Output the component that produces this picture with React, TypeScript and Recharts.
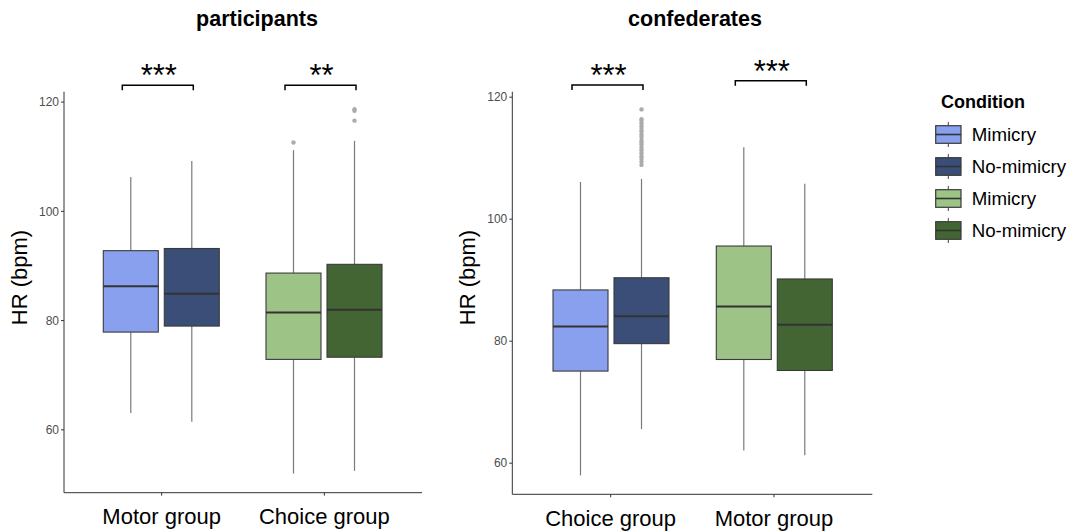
import React from 'react';
import { ComposedChart, Bar, XAxis, YAxis, Cell } from 'recharts';

const FONT = '"Liberation Sans", Arial, Helvetica, sans-serif';

// stats are [lower whisker, q1, median, q3, upper whisker]
const participantGroups = ['Motor group', 'Choice group'];
const participantMimicry = [
  [63.1, 77.9, 86.3, 92.8, 106.3],
  [52.0, 72.9, 81.5, 88.7, 111.2],
];
const participantNoMimicry = [
  [61.5, 79.0, 84.9, 93.2, 109.2],
  [52.5, 73.3, 82.0, 90.3, 112.9],
];
const participantMimicryOutliers = [[], [112.6]];
const participantNoMimicryOutliers = [[], [118.7, 118.4, 116.6]];
const participantSig = ['***', '**'];
const participantSigY = [123.1, 123.1];

const confederateGroups = ['Choice group', 'Motor group'];
const confederateMimicry = [
  [58.0, 75.1, 82.4, 88.4, 106.1],
  [62.1, 77.0, 85.7, 95.6, 111.8],
];
const confederateNoMimicry = [
  [65.6, 79.6, 84.1, 90.4, 106.6],
  [61.3, 75.2, 82.7, 90.2, 105.8],
];
const confederateMimicryOutliers = [[], []];
const confederateNoMimicryOutliers = [
  [118.0, 116.4, 116.1, 115.7, 115.2, 114.8, 114.4, 113.9, 113.5, 113.0, 112.6, 112.2, 111.7, 111.3, 110.8, 110.3, 109.9, 109.4, 108.9],
  [],
];
const confederateSig = ['***', '***'];
const confederateSigY = [122.0, 122.7];

const yTicks = [60, 80, 100, 120];

const legendLabels = ['Mimicry', 'No-mimicry', 'Mimicry', 'No-mimicry'];
const legendColors = ['#88a0ee', '#3a4e78', '#9dc387', '#436533'];

// colour pairs by position in the panel: first group blue, second green
const pairColors = [
  ['#88a0ee', '#3a4e78'],
  ['#9dc387', '#436533'],
];

const makeBox = (which: 'mim' | 'no') => (props: any) => {
  const { x, y, width, height, payload, fill } = props;
  const stats: number[] = payload[which + 'Stats'];
  const outs: number[] = payload[which + 'Out'];
  const [mn, q1, md, q3, mx] = stats;
  const k = height / (mx - mn);
  const py = (v: number) => y + (mx - v) * k;
  const cx = x + width / 2;
  return (
    <g>
      <line x1={cx} x2={cx} y1={py(mx)} y2={py(q3)} stroke="#7a7a7a" strokeWidth={1.2} />
      <line x1={cx} x2={cx} y1={py(q1)} y2={py(mn)} stroke="#7a7a7a" strokeWidth={1.2} />
      <rect x={x} y={py(q3)} width={width} height={py(q1) - py(q3)} fill={fill} stroke="#3a3a3a" strokeWidth={1.1} />
      <line x1={x} x2={x + width} y1={py(md)} y2={py(md)} stroke="#333" strokeWidth={2} />
      {outs.map((v, i) => (
        <circle key={i} cx={cx} cy={py(v)} r={2.2} fill="#ababab" />
      ))}
      {which === 'no' && (
        <g>
          <path
            d={`M${cx - 69.5},${py(payload.sigY) + 5}V${py(payload.sigY)}H${cx + 1.5}V${py(payload.sigY) + 5}`}
            fill="none"
            stroke="#000"
            strokeWidth={1.5}
          />
          <text
            x={cx - 33}
            y={py(payload.sigY) + 1}
            textAnchor="middle"
            fontSize={31}
            fontFamily={FONT}
            fill="#000"
          >
            {payload.sig}
          </text>
        </g>
      )}
    </g>
  );
};

const mimShape = makeBox('mim');
const noShape = makeBox('no');

type PanelProps = {
  groups: string[];
  mimicry: number[][];
  noMimicry: number[][];
  mimicryOut: number[][];
  noMimicryOut: number[][];
  sig: string[];
  sigY: number[];
  domain: [number, number];
  width: number;
  margin: { top: number; right: number; bottom: number; left: number };
  yWidth: number;
  pad: number;
};

const Panel = (p: PanelProps) => {
  const rows = p.groups.map((g, i) => ({
    group: g,
    mim: [p.mimicry[i][0], p.mimicry[i][4]],
    no: [p.noMimicry[i][0], p.noMimicry[i][4]],
    mimStats: p.mimicry[i],
    noStats: p.noMimicry[i],
    mimOut: p.mimicryOut[i],
    noOut: p.noMimicryOut[i],
    sig: p.sig[i],
    sigY: p.sigY[i],
  }));
  return (
    <ComposedChart width={p.width} height={531} data={rows} margin={p.margin} barSize={55} barGap={6}>
      <XAxis
        dataKey="group"
        height={30}
        padding={{ left: p.pad, right: p.pad }}
        axisLine={{ stroke: '#333', strokeWidth: 1 }}
        tickLine={{ stroke: '#333' }}
        tickSize={3}
        tickMargin={13}
        tick={{ fontSize: 22, fill: '#000', fontFamily: FONT }}
        interval={0}
      />
      <YAxis
        type="number"
        domain={p.domain}
        ticks={yTicks}
        width={p.yWidth}
        axisLine={{ stroke: '#333', strokeWidth: 1 }}
        tickLine={{ stroke: '#333' }}
        tickSize={3}
        tickMargin={2}
        tick={{ fontSize: 12, fill: '#4d4d4d', fontFamily: FONT }}
      />
      <Bar dataKey="mim" shape={mimShape} isAnimationActive={false}>
        {rows.map((r, i) => (
          <Cell key={`m-${i}`} fill={pairColors[i][0]} />
        ))}
      </Bar>
      <Bar dataKey="no" shape={noShape} isAnimationActive={false}>
        {rows.map((r, i) => (
          <Cell key={`n-${i}`} fill={pairColors[i][1]} />
        ))}
      </Bar>
    </ComposedChart>
  );
};

const App: React.FC = () => {
  return (
    <div style={{ position: 'absolute', left: 0, top: 0, width: 1078, height: 531, background: '#fff', fontFamily: FONT }}>
      <div style={{ position: 'absolute', left: 0, top: 0 }}>
        <Panel
          groups={participantGroups}
          mimicry={participantMimicry}
          noMimicry={participantNoMimicry}
          mimicryOut={participantMimicryOutliers}
          noMimicryOut={participantNoMimicryOutliers}
          sig={participantSig}
          sigY={participantSigY}
          domain={[48.5, 121.9]}
          width={440}
          margin={{ top: 91.7, right: 18, bottom: 8.3, left: 30 }}
          yWidth={34}
          pad={16.3}
        />
      </div>
      <div style={{ position: 'absolute', left: 450, top: 0 }}>
        <Panel
          groups={confederateGroups}
          mimicry={confederateMimicry}
          noMimicry={confederateNoMimicry}
          mimicryOut={confederateMimicryOutliers}
          noMimicryOut={confederateNoMimicryOutliers}
          sig={confederateSig}
          sigY={confederateSigY}
          domain={[54.9, 120.9]}
          width={628}
          margin={{ top: 91.7, right: 205.7, bottom: 6.7, left: 28.3 }}
          yWidth={34}
          pad={16.7}
        />
      </div>
      <svg width={1078} height={531} style={{ position: 'absolute', left: 0, top: 0, pointerEvents: 'none' }}>
        <text x={257} y={26} textAnchor="middle" fontSize={21.5} fontWeight="bold" fontFamily={FONT}>participants</text>
        <text x={695} y={26} textAnchor="middle" fontSize={21.5} fontWeight="bold" fontFamily={FONT}>confederates</text>
        <text transform="translate(27,277.5) rotate(-90)" textAnchor="middle" fontSize={22} fontFamily={FONT}>HR (bpm)</text>
        <text transform="translate(475,277.5) rotate(-90)" textAnchor="middle" fontSize={22} fontFamily={FONT}>HR (bpm)</text>
        <text x={941} y={107.5} fontSize={18} fontWeight="bold" fontFamily={FONT}>Condition</text>
        {legendLabels.map((lab, i) => {
          const cy = 134.5 + i * 32;
          return (
            <g key={i}>
              <line x1={948.3} x2={948.3} y1={cy - 12.5} y2={cy + 12.5} stroke="#444" strokeWidth={1} />
              <rect x={935.7} y={cy - 8.8} width={25.3} height={17.6} fill={legendColors[i]} stroke="#3a3a3a" strokeWidth={1.2} />
              <line x1={935.7} x2={961} y1={cy} y2={cy} stroke="#333" strokeWidth={1.6} />
              <text x={971.7} y={cy + 6.3} fontSize={18.7} fontFamily={FONT}>{lab}</text>
            </g>
          );
        })}
      </svg>
    </div>
  );
};

export default App;
